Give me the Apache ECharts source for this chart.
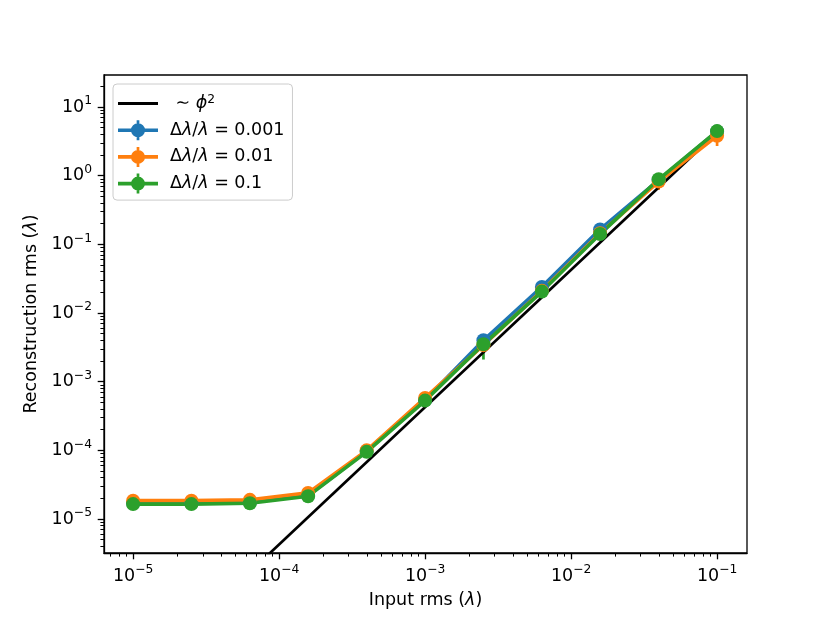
<!DOCTYPE html>
<html><head><meta charset="utf-8">
<script src="https://cdn.jsdelivr.net/npm/echarts@6/dist/echarts.min.js"></script>
<style>html,body{margin:0;padding:0;background:#fff}#c{width:830px;height:623px}</style>
</head><body><div id="c"></div>
<script>
// ---- data ----
const inputRms = [1e-5, 2.51e-5, 6.31e-5, 1.58e-4, 3.98e-4, 1e-3, 2.51e-3, 6.31e-3, 1.58e-2, 3.98e-2, 1e-1];
const rms001 = [1.70e-5, 1.70e-5, 1.75e-5, 2.20e-5, 9.8e-5, 5.4e-4, 4.0e-3, 2.4e-2, 0.165, 0.86, 4.4];
const err001 = [1e-6, 1e-6, 1e-6, 1.5e-6, 8e-6, 4e-5, 6e-4, 4e-3, 2.5e-2, 0.08, 0.6];
const rms01 = [1.85e-5, 1.85e-5, 1.90e-5, 2.40e-5, 1.0e-4, 5.8e-4, 3.4e-3, 2.1e-2, 0.145, 0.82, 3.8];
const err01 = [1e-6, 1e-6, 1e-6, 1.5e-6, 8e-6, 6e-5, 5e-4, 3e-3, 2e-2, 0.2, 1.1];
const rms1 = [1.65e-5, 1.65e-5, 1.70e-5, 2.15e-5, 9.5e-5, 5.3e-4, 3.5e-3, 2.05e-2, 0.141, 0.885, 4.45];
const err1 = [1e-6, 1e-6, 1e-6, 1.5e-6, 8e-6, 5e-5, 1.4e-3, 3e-3, 2e-2, 0.1, 1.0];
const phiX = [1e-5, 1e-1];
const phiY = [4.26e-8, 4.26];
const seriesNames = ['phi', 'd001', 'd01', 'd1'];
const legendLabels = [' ∼ {i|ϕ}{s|2}', 'Δ{i|λ}/{i|λ} = 0.001', 'Δ{i|λ}/{i|λ} = 0.01', 'Δ{i|λ}/{i|λ} = 0.1'];
const xTickLabels = [1e-5, 1e-4, 1e-3, 1e-2, 1e-1];
const yTickLabels = [1e-5, 1e-4, 1e-3, 1e-2, 1e-1, 1e0, 1e1];
const xRange = [6.32e-6, 0.1603];
const yRange = [3.2e-6, 29.2];

// ---- helpers ----
const colors = ['#000000', '#1f77b4', '#ff7f0e', '#2ca02c'];
const FONT = 'DejaVu Sans';
const FS = 17.5;
const SFS = 12.3;
function fmt(v) {
  const e = Math.round(Math.log10(v));
  return '{b|10}{s|' + String(e).replace('-', '−') + '}';
}
function minorTicks(lo, hi) {
  const out = [];
  for (let d = lo; d <= hi; d++) for (let m = 2; m <= 9; m++) out.push(m * Math.pow(10, d));
  return out;
}
const xMinor = minorTicks(-6, -1);
const yMinor = minorTicks(-6, 1);

function pairs(xs, ys) { return xs.map((x, i) => [x, ys[i]]); }
function errData(xs, ys, es) { return xs.map((x, i) => [x, ys[i] - es[i], ys[i] + es[i]]); }
function errSeries(xs, ys, es, color) {
  return {
    type: 'custom', xAxisIndex: 0, yAxisIndex: 0, clip: true, silent: true,
    data: errData(xs, ys, es),
    encode: { x: 0, y: [1, 2] },
    renderItem: function (params, api) {
      const p1 = api.coord([api.value(0), api.value(1)]);
      const p2 = api.coord([api.value(0), api.value(2)]);
      return { type: 'line', shape: { x1: p1[0], y1: p1[1], x2: p2[0], y2: p2[1] },
               style: { stroke: color, lineWidth: 2.7 } };
    }
  };
}
function lineSeries(name, xs, ys, color) {
  return {
    name: name, type: 'line', xAxisIndex: 0, yAxisIndex: 0,
    data: pairs(xs, ys), symbol: 'circle', symbolSize: 14, showSymbol: true, clip: true,
    lineStyle: { color: color, width: 3.6 }, itemStyle: { color: color, borderWidth: 0 },
    emphasis: { disabled: true }
  };
}

const markerIcon = 'path://M0,8.2 L13.5,8.2 L13.5,11.8 L0,11.8 Z M26.5,8.2 L40,8.2 L40,11.8 L26.5,11.8 Z ' +
  'M13,10 A7,7 0 1,1 27,10 A7,7 0 1,1 13,10 Z M18.65,0 L21.35,0 L21.35,20 L18.65,20 Z';
const lineIcon = 'path://M0,0 L40,0 L40,3.2 L0,3.2 Z';

const tickRich = {
  b: { fontFamily: FONT, fontSize: FS, color: '#000', lineHeight: 24 },
  s: { fontFamily: FONT, fontSize: SFS, color: '#000', lineHeight: 16, verticalAlign: 'top' }
};
const axisText = { color: '#000', fontFamily: FONT, fontSize: FS };
const nameRich = { i: { fontStyle: 'italic', fontFamily: FONT, fontSize: FS, color: '#000' } };

function majorAxis(range, ticks, margin, extra) {
  return Object.assign({
    type: 'log', logBase: 10, min: range[0], max: range[1], gridIndex: 0,
    axisLine: { show: true, onZero: false, lineStyle: { color: '#000', width: 1.3 } },
    axisTick: { show: true, inside: false, length: 6.3, lineStyle: { color: '#000', width: 1.3 }, customValues: ticks },
    axisLabel: Object.assign({ show: true, customValues: ticks, formatter: fmt, margin: margin, rich: tickRich }, axisText),
    minorTick: { show: false }, splitLine: { show: false }, minorSplitLine: { show: false },
    nameTextStyle: Object.assign({ rich: nameRich }, axisText)
  }, extra);
}
function minorAxis(range, ticks, extra) {
  return Object.assign({
    type: 'log', logBase: 10, min: range[0], max: range[1], gridIndex: 0,
    axisLine: { show: false, onZero: false },
    axisTick: { show: true, inside: false, length: 3.6, lineStyle: { color: '#000', width: 1 }, customValues: ticks },
    axisLabel: { show: false }, minorTick: { show: false }, splitLine: { show: false }
  }, extra);
}

const chart = echarts.init(document.getElementById('c'), null, { renderer: 'canvas' });
chart.setOption({
  animation: false,
  backgroundColor: '#fff',
  grid: { left: 104, right: 83, top: 75, bottom: 70, show: true, borderColor: '#000', borderWidth: 1.3,
          backgroundColor: 'transparent', containLabel: false, outerBoundsMode: 'none' },
  xAxis: [
    majorAxis(xRange, xTickLabels, 11, { position: 'bottom', name: 'Input rms ({i|λ})', nameLocation: 'middle', nameGap: 38 }),
    minorAxis(xRange, xMinor, { position: 'bottom' })
  ],
  yAxis: [
    majorAxis(yRange, yTickLabels, 12, { position: 'left', name: 'Reconstruction rms ({i|λ})', nameLocation: 'middle', nameGap: 60 }),
    minorAxis(yRange, yMinor, { position: 'left' })
  ],
  legend: {
    left: 113, top: 84, orient: 'vertical', selectedMode: false,
    padding: [9.5, 8, 6.5, 5], itemGap: 6.7, itemWidth: 40, itemHeight: 20, symbolKeepAspect: true,
    borderColor: '#cccccc', borderWidth: 1, borderRadius: 4, backgroundColor: 'rgba(255,255,255,0.8)',
    itemStyle: { borderWidth: 0 },
    textStyle: { color: '#000', fontFamily: FONT, fontSize: FS, lineHeight: 20, padding: [0, 0, 0, 7],
                 rich: { i: { fontStyle: 'italic', fontFamily: FONT, fontSize: FS, color: '#000', lineHeight: 20 },
                         s: { fontFamily: FONT, fontSize: SFS, color: '#000', lineHeight: 14, verticalAlign: 'top' } } },
    data: [
      { name: seriesNames[0], icon: lineIcon },
      { name: seriesNames[1], icon: markerIcon },
      { name: seriesNames[2], icon: markerIcon },
      { name: seriesNames[3], icon: markerIcon }
    ],
    formatter: function (n) { return legendLabels[seriesNames.indexOf(n)]; }
  },
  series: [
    { name: seriesNames[0], type: 'line', xAxisIndex: 0, yAxisIndex: 0, data: pairs(phiX, phiY),
      symbol: 'none', clip: true, lineStyle: { color: colors[0], width: 2.7 }, itemStyle: { color: colors[0] },
      emphasis: { disabled: true } },
    lineSeries(seriesNames[1], inputRms, rms001, colors[1]),
    errSeries(inputRms, rms001, err001, colors[1]),
    lineSeries(seriesNames[2], inputRms, rms01, colors[2]),
    errSeries(inputRms, rms01, err01, colors[2]),
    lineSeries(seriesNames[3], inputRms, rms1, colors[3]),
    errSeries(inputRms, rms1, err1, colors[3])
  ]
});
</script>
</body></html>
